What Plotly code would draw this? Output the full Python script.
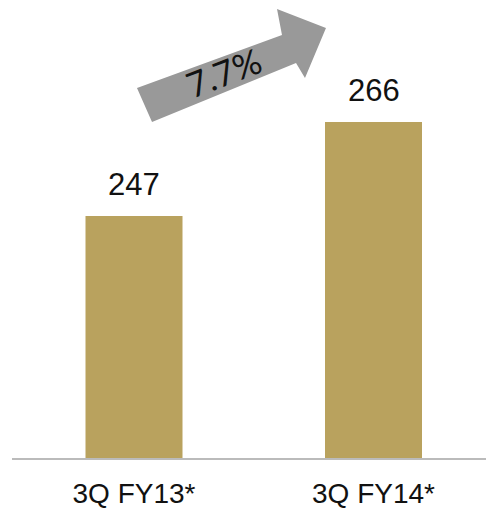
import plotly.graph_objects as go

categories = ["3Q FY13*", "3Q FY14*"]
values = [247, 266]
growth_label = "7.7%"

W, H = 486, 509
ML, MR, MT, MB = 12, 0, 0, 51
PW, PH = W - ML - MR, H - MT - MB

bar_color = "#B9A25E"
arrow_color = "#999999"

fig = go.Figure()
fig.add_trace(go.Bar(
    x=[0, 1], y=values, width=0.405,
    marker=dict(color=bar_color, line=dict(width=0)),
    hoverinfo="skip",
))

for i, v in enumerate(values):
    fig.add_annotation(
        x=i, y=v, text=str(v), showarrow=False,
        xanchor="center", yanchor="bottom", yshift=12,
        font=dict(family="Liberation Sans, Arial", size=31, color="#111111"),
    )

def px(x):
    return (x - ML) / PW

def py(y):
    return 1 - (y - MT) / PH

# decorative growth arrow (pixel outline converted to paper coords)
outline = [(137, 88), (282, 35), (277, 9), (326, 28), (305, 78), (296, 63), (152, 122)]
path = "M " + " L ".join(f"{px(a):.4f},{py(b):.4f}" for a, b in outline) + " Z"
fig.add_shape(type="path", path=path, xref="paper", yref="paper",
              fillcolor=arrow_color, line=dict(width=0), layer="above")
fig.add_annotation(
    x=px(223), y=py(72), xref="paper", yref="paper", text=growth_label,
    showarrow=False, textangle=-21, xanchor="center", yanchor="middle",
    font=dict(family="Lato, Open Sans", size=35, color="#111111"),
)

fig.update_layout(
    width=W, height=H,
    margin=dict(l=ML, r=MR, t=MT, b=MB),
    paper_bgcolor="white", plot_bgcolor="white",
    showlegend=False,
    xaxis=dict(
        range=[-122 / 239.5, (PW - 122) / 239.5],
        tickmode="array", tickvals=[0, 1], ticktext=categories,
        showgrid=False, zeroline=False, showline=True,
        linecolor="#BBBBBB", linewidth=2, ticks="",
        ticklabelstandoff=9,
        tickfont=dict(family="Liberation Sans, Arial", size=28, color="#111111"),
    ),
    yaxis=dict(
        range=[198.08, 290.66], visible=False, showgrid=False, zeroline=False,
    ),
)

fig.write_html("out.html")
